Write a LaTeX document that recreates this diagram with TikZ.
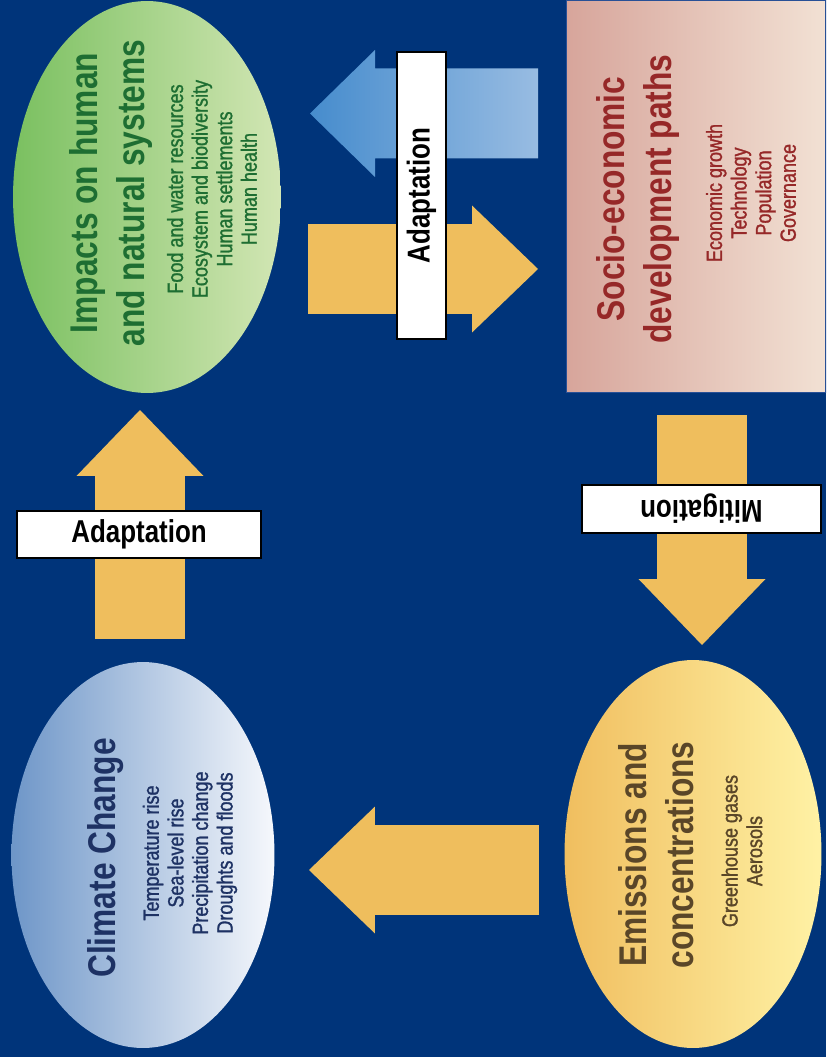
\documentclass[tikz,border=0pt]{standalone}
\usepackage{fontspec}
\setmainfont{Liberation Sans}[FakeStretch=0.82]
\newfontfamily\listfont{Liberation Sans}[FakeStretch=0.82, FakeBold=1.2]
\usetikzlibrary{shapes.geometric, arrows.meta, positioning}
\definecolor{navy}{RGB}{0,52,122}
\definecolor{orangeA}{RGB}{239,190,93}
\definecolor{greenD}{RGB}{122,192,96}
\definecolor{greenL}{RGB}{210,230,180}
\definecolor{greenT}{RGB}{30,110,50}
\definecolor{blueD}{RGB}{110,150,200}
\definecolor{blueL}{RGB}{246,248,252}
\definecolor{blueT}{RGB}{30,50,100}
\definecolor{yellowD}{RGB}{240,190,95}
\definecolor{yellowL}{RGB}{255,242,165}
\definecolor{yellowT}{RGB}{90,70,40}
\definecolor{pinkD}{RGB}{215,165,155}
\definecolor{pinkL}{RGB}{242,225,212}
\definecolor{pinkT}{RGB}{150,40,40}
\definecolor{arrowD}{RGB}{70,140,205}
\definecolor{arrowL}{RGB}{152,188,226}
\tikzset{
  blob/.style = {ellipse, inner sep=0pt},
  headtext/.style = {rotate=90, align=center, font=\fontsize{22}{27}\selectfont\bfseries},
  listtext/.style = {rotate=90, align=center, font=\fontsize{12.5}{14}\listfont},
  tag/.style = {draw=black, line width=0.9pt, fill=white, inner sep=0pt, font=\fontsize{18}{20}\selectfont\bfseries},
  fat/.style = {draw=orangeA, line width=1.8cm, -{Triangle[length=1.32cm, width=2.54cm, line width=0pt]}}
}
\begin{document}
\begin{tikzpicture}[x=0.02cm, y=-0.02cm]
\useasboundingbox (0,0) rectangle (826,1057);
\clip (0,0) rectangle (826,1057);
\fill [navy] (0,0) rectangle (826,1057);

\node [blob, left color=greenD, right color=greenL, minimum width=5.36cm, minimum height=7.84cm] (impacts) at (147,197) {};
\node [blob, left color=blueD, right color=blueL, minimum width=5.26cm, minimum height=7.72cm] (climate) at (143,855) {};
\node [blob, left color=yellowD, right color=yellowL, minimum width=5.14cm, minimum height=7.76cm] (emissions) at (693,854) {};
\node [draw={rgb,255:red,40;green,80;blue,150}, line width=0.6pt, left color=pinkD, right color=pinkL, minimum width=5.2cm, minimum height=7.86cm, inner sep=0pt] (socio) at (696,196.5) {};

\coordinate (backTip) at (310,113.5);
\shade [left color=arrowD, right color=arrowL] (backTip) -- ++(65,-63.5) -- ++(0,18.5) -- ++(163,0) -- ++(0,90) -- ++(-163,0) -- ++(0,18.5) -- cycle;

\coordinate (upTail) at (140,639);
\coordinate (upTip) at (140,410);
\coordinate (rightTail) at (308,269);
\coordinate (rightTip) at (538,269);
\coordinate (downTail) at (702,415);
\coordinate (downTip) at (702,645);
\coordinate (leftTail) at (539,870);
\coordinate (leftTip) at (309,870);
\draw [fat] (upTail) -- (upTip);
\draw [fat] (rightTail) -- (rightTip);
\draw [fat] (downTail) -- (downTip);
\draw [fat] (leftTail) -- (leftTip);

\node [tag, rotate=90, minimum width=5.74cm, minimum height=0.98cm] (adaptTop) at (421.5,195.5) {Adaptation};
\node [tag, minimum width=4.88cm, minimum height=0.94cm] (adaptLeft) at (139,534.5) {Adaptation};
\node [tag, rotate=180, minimum width=4.78cm, minimum height=0.96cm] (mitig) at (701.5,509) {Mitigation};

\node [headtext, text=greenT] (impactsHead) at (111,193) {Impacts on human\\and natural systems};
\node [listtext, text=greenT] (impactsList) at (212,189) {Food and water resources\\Ecosystem and biodiversity\\Human settlements\\Human health};
\node [headtext, text=blueT] (climateHead) at (106,858) {Climate Change};
\node [listtext, text=blueT] (climateList) at (190,853) {Temperature rise\\Sea-level rise\\Precipitation change\\Droughts and floods};
\node [headtext, text=yellowT] (emissionsHead) at (656,855) {Emissions and\\concentrations};
\node [listtext, text=yellowT] (emissionsList) at (742,851) {Greenhouse gases\\Aerosols};
\node [headtext, text=pinkT] (socioHead) at (638,199) {Socio-economic\\development paths};
\node [listtext, text=pinkT] (socioList) at (751,193) {Economic growth\\Technology\\Population\\Governance};
\end{tikzpicture}
\end{document}
